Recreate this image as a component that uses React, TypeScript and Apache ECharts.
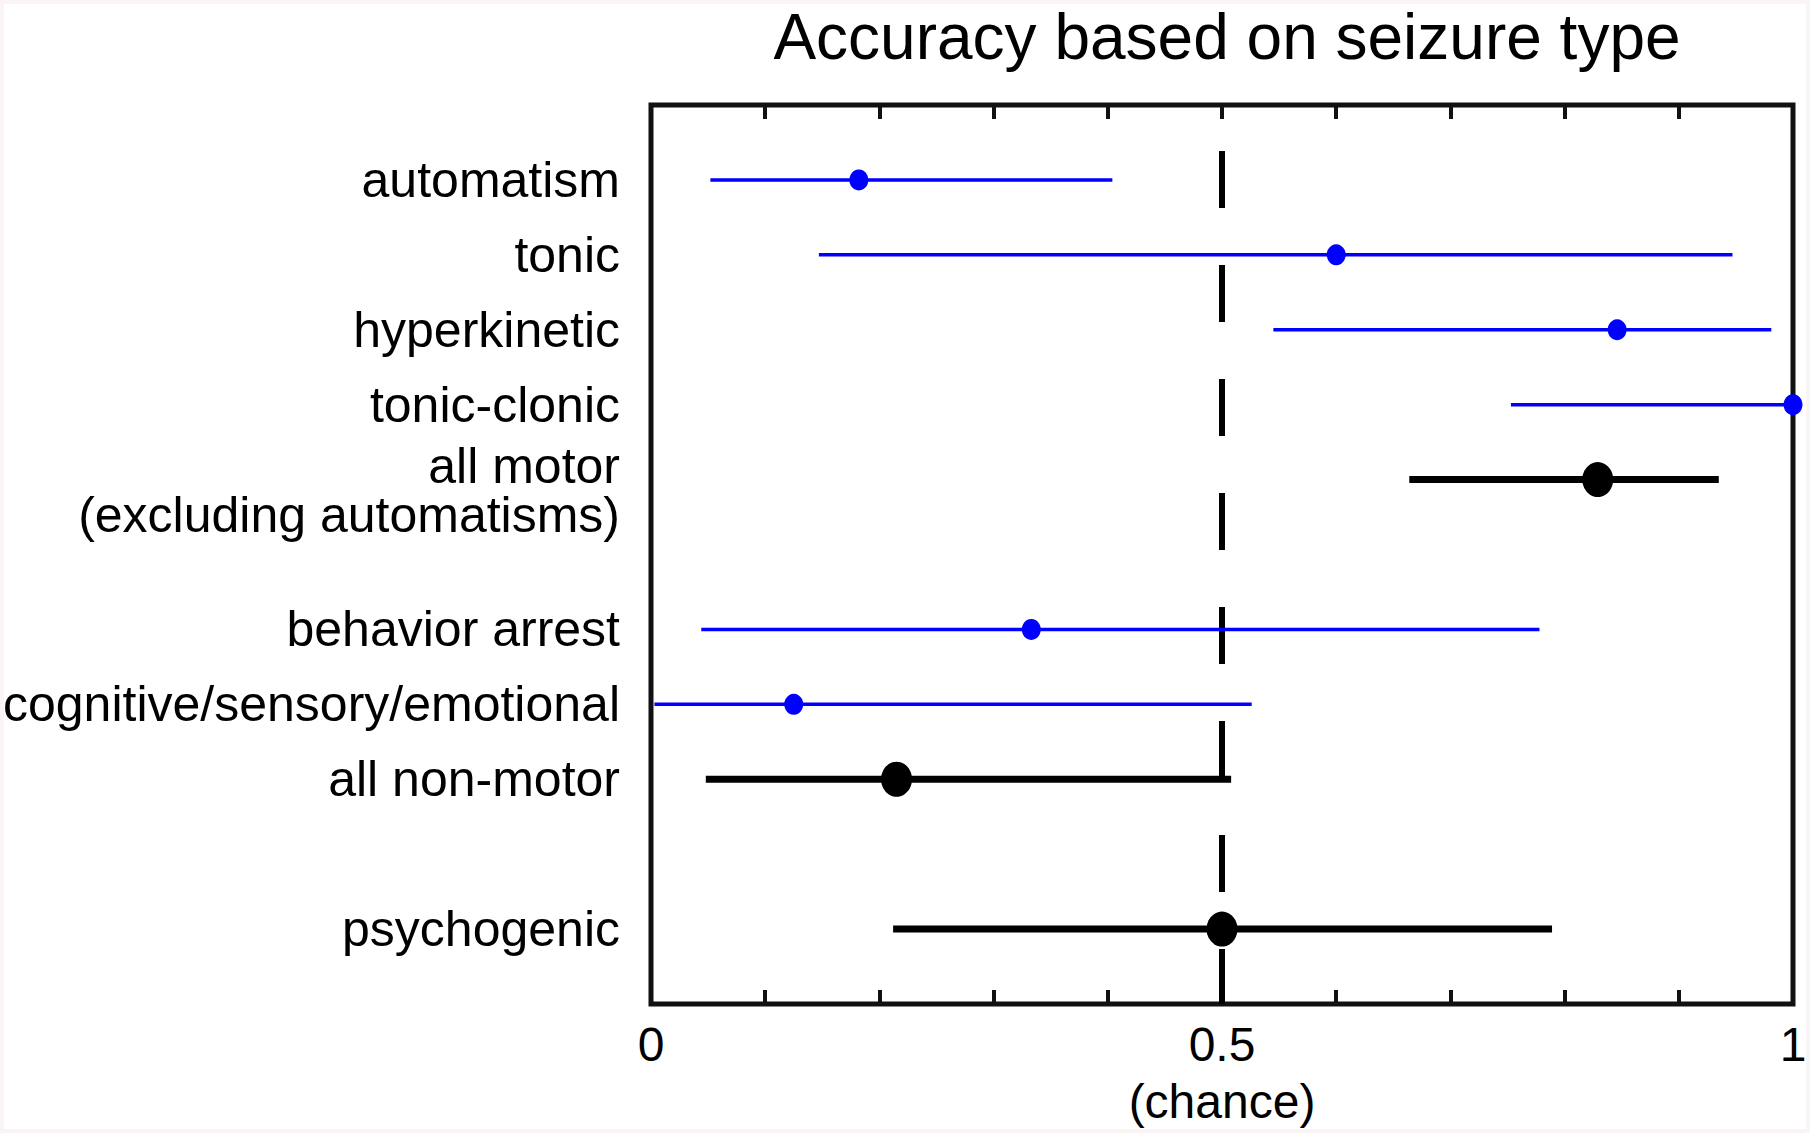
import React, { useEffect, useRef } from 'react';
import * as echarts from 'echarts';

// ---- data ----
const categories = [
  'automatism',
  'tonic',
  'hyperkinetic',
  'tonic-clonic',
  'all motor\n(excluding automatisms)',
  'behavior arrest',
  'cognitive/sensory/emotional',
  'all non-motor',
  'psychogenic',
];
const rowPositions = [0, 1, 2, 3, 4, 6, 7, 8, 10];
const accuracy = [0.182, 0.6, 0.846, 1.0, 0.829, 0.333, 0.125, 0.215, 0.5];
const ciLow = [0.052, 0.147, 0.545, 0.753, 0.664, 0.044, 0.003, 0.048, 0.212];
const ciHigh = [0.404, 0.947, 0.981, 1.0, 0.935, 0.778, 0.526, 0.508, 0.789];
const isSummary = [false, false, false, false, true, false, false, true, true];
const chanceLevel = 0.5;
const xTickLabels: [number, string][] = [
  [0, '0'],
  [0.5, '0.5\n(chance)'],
  [1, '1'],
];
const chartTitle = 'Accuracy based on seizure type';

const FONT = '"Liberation Sans", Arial, Helvetica, sans-serif';
const BLUE = '#0000ff';
const BLACK = '#000000';

export default function App() {
  const ref = useRef<HTMLDivElement>(null);

  useEffect(() => {
    if (!ref.current) return;
    const chart = echarts.init(ref.current, null, { renderer: 'svg' });

    const labelByPos = new Map<number, string>();
    rowPositions.forEach((p, i) => labelByPos.set(p, categories[i]));

    const detailBars: number[][] = [];
    const summaryBars: number[][] = [];
    const detailPts: number[][] = [];
    const summaryPts: number[][] = [];
    rowPositions.forEach((p, i) => {
      (isSummary[i] ? summaryBars : detailBars).push([ciLow[i], ciHigh[i], p]);
      (isSummary[i] ? summaryPts : detailPts).push([accuracy[i], p]);
    });

    const barRender = (width: number, color: string) => (_params: any, api: any) => {
      const a = api.coord([api.value(0), api.value(2)]);
      const b = api.coord([api.value(1), api.value(2)]);
      return {
        type: 'line',
        shape: { x1: a[0], y1: a[1], x2: b[0], y2: b[1] },
        style: { stroke: color, lineWidth: width, lineCap: 'butt' },
      };
    };

    const xLabelFormatter = (v: number) => {
      for (const [val, txt] of xTickLabels) {
        if (Math.abs(v - val) < 1e-6) return txt;
      }
      return '';
    };

    const yLabelFormatter = (v: number) => {
      const txt = labelByPos.get(Math.round(v)) ?? '';
      if (txt.indexOf('\n') >= 0) {
        const [l1, l2] = txt.split('\n');
        return `{l1|${l1}}\n{l2|${l2}}`;
      }
      return txt;
    };

    const tickStyle = { show: true, inside: true, length: 14, lineStyle: { color: '#111111', width: 4 } };

    const option: any = {
      animation: false,
      backgroundColor: '#ffffff',
      title: {
        text: chartTitle,
        left: 1222,
        textAlign: 'center',
        top: 0,
        textStyle: { fontFamily: FONT, fontSize: 64, fontWeight: 'normal', color: BLACK },
      },
      graphic: [
        {
          type: 'rect',
          shape: { x: 0, y: 0, width: 1810, height: 1133 },
          style: { fill: 'none', stroke: '#faf4f4', lineWidth: 8 },
          silent: true,
          z: 100,
        },
      ],
      grid: {
        left: 651,
        right: 17,
        top: 105,
        bottom: 129,
        show: true,
        borderColor: '#111111',
        borderWidth: 5,
        backgroundColor: 'transparent',
      },
      xAxis: [
        {
          type: 'value',
          position: 'bottom',
          min: 0,
          max: 1,
          interval: 0.1,
          axisLine: { show: false, onZero: false },
          splitLine: { show: false },
          axisTick: tickStyle,
          axisLabel: {
            formatter: xLabelFormatter,
            showMinLabel: true,
            showMaxLabel: true,
            margin: 12,
            fontFamily: FONT,
            fontSize: 48,
            lineHeight: 57,
            color: BLACK,
          },
        },
        {
          type: 'value',
          position: 'top',
          min: 0,
          max: 1,
          interval: 0.1,
          axisLine: { show: false, onZero: false },
          splitLine: { show: false },
          axisTick: tickStyle,
          axisLabel: { show: false },
        },
      ],
      yAxis: {
        type: 'value',
        inverse: true,
        min: -1,
        max: 11,
        interval: 1,
        axisLine: { show: false, onZero: false },
        axisTick: { show: false },
        splitLine: { show: false },
        axisLabel: {
          formatter: yLabelFormatter,
          margin: 31,
          fontFamily: FONT,
          fontSize: 50,
          lineHeight: 50,
          color: BLACK,
          showMinLabel: true,
          showMaxLabel: true,
          rich: {
            l1: { fontFamily: FONT, fontSize: 50, lineHeight: 70, verticalAlign: 'bottom', color: BLACK },
            l2: { fontFamily: FONT, fontSize: 50, lineHeight: 48, verticalAlign: 'middle', color: BLACK },
          },
        },
      },
      series: [
        {
          name: 'chance',
          type: 'line',
          data: [
            [chanceLevel, -1],
            [chanceLevel, 11],
          ],
          symbol: 'none',
          silent: true,
          z: 1,
          lineStyle: { color: BLACK, width: 6, type: [57, 57], dashOffset: 68, cap: 'butt' },
        },
        {
          name: 'detail CI',
          type: 'custom',
          renderItem: barRender(3.5, BLUE),
          encode: { x: [0, 1], y: 2 },
          data: detailBars,
          z: 3,
          silent: true,
        },
        {
          name: 'summary CI',
          type: 'custom',
          renderItem: barRender(7, BLACK),
          encode: { x: [0, 1], y: 2 },
          data: summaryBars,
          z: 3,
          silent: true,
        },
        {
          name: 'detail',
          type: 'scatter',
          data: detailPts,
          symbol: 'circle',
          symbolSize: [19, 21],
          itemStyle: { color: BLUE, opacity: 1 },
          clip: false,
          z: 5,
          silent: true,
        },
        {
          name: 'summary',
          type: 'scatter',
          data: summaryPts,
          symbol: 'circle',
          symbolSize: [31, 35],
          itemStyle: { color: BLACK, opacity: 1 },
          clip: false,
          z: 5,
          silent: true,
        },
      ],
    };

    chart.setOption(option);
    return () => chart.dispose();
  }, []);

  return (
    <div
      ref={ref}
      style={{ position: 'absolute', left: 0, top: 0, width: 1810, height: 1133, background: '#fff' }}
    />
  );
}
